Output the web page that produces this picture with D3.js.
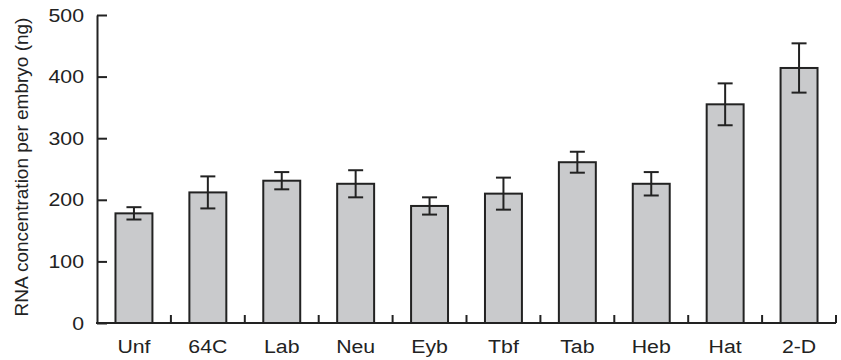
<!DOCTYPE html>
<html lang="en">
	<head>
		<meta charset="utf-8">
		<title>RNA per embryo</title>
		<script type="text/javascript" src="https://cdn.jsdelivr.net/npm/d3@7"></script>
		<style type="text/css">
			body { margin: 0; background: #fff; }
			text { font-family: "Liberation Sans", Arial, sans-serif; fill: #222; }
		</style>
	</head>
	<body>
		<script type="text/javascript">

			// stages and RNA values (ng)
			var stages = ["Unf", "64C", "Lab", "Neu", "Eyb", "Tbf", "Tab", "Heb", "Hat", "2-D"]
			var rna = [178, 212, 231, 226, 190, 210, 261, 226, 355, 414]
			var err = [10, 26, 14, 22, 14, 26, 17, 19, 34, 40]
			var yTicks = [0, 100, 200, 300, 400, 500]

			var w = 841, h = 360
			var padL = 97, padR = 836, padT = 15, padB = 323
			var stretch = 1.12 // labels in the figure are a bit wider than Helvetica

			var svg = d3.select("body").append("svg").attr("width", w).attr("height", h)

			var x = d3.scaleBand()
				.domain(stages)
				.range([padL, padR])
				.paddingInner(0.5)
				.paddingOuter(0.25)

			var y = d3.scaleLinear()
				.domain([0, 500])
				.range([padB, padT])

			var data = stages.map(function(s, i) {
				return {stage: s, v: rna[i], e: err[i]}
			})

			// bars
			svg.selectAll(".bar")
				.data(data)
				.enter()
				.append("rect")
				.attr("class", "bar")
				.attr("x", function(d) { return x(d.stage) })
				.attr("y", function(d) { return y(d.v) })
				.attr("width", x.bandwidth())
				.attr("height", function(d) { return y(0) - y(d.v) })
				.attr("fill", "#c9cacc")
				.attr("stroke", "#222")
				.attr("stroke-width", 2)

			// error bars
			var cap = 7.5
			var eb = svg.selectAll(".err")
				.data(data)
				.enter()
				.append("g")
				.attr("class", "err")
				.attr("stroke", "#222")
				.attr("stroke-width", 2)
				.attr("transform", function(d) { return "translate(" + (x(d.stage) + x.bandwidth() / 2) + ",0)" })
			eb.append("line")
				.attr("y1", function(d) { return y(d.v + d.e) })
				.attr("y2", function(d) { return y(d.v - d.e) })
			eb.append("line")
				.attr("x1", -cap).attr("x2", cap)
				.attr("y1", function(d) { return y(d.v + d.e) })
				.attr("y2", function(d) { return y(d.v + d.e) })
			eb.append("line")
				.attr("x1", -cap).attr("x2", cap)
				.attr("y1", function(d) { return y(d.v - d.e) })
				.attr("y2", function(d) { return y(d.v - d.e) })

			// y axis, ticks pointing inward
			var yAxis = svg.append("g")
				.attr("transform", "translate(" + padL + ",0)")
				.call(d3.axisLeft(y).tickValues(yTicks).tickSizeInner(-10).tickSizeOuter(0).tickPadding(13))
			yAxis.select(".domain").attr("stroke", "#222").attr("stroke-width", 2)
			yAxis.selectAll(".tick line").attr("stroke", "#222").attr("stroke-width", 2)
			yAxis.selectAll("text").attr("font-size", "19px").attr("fill", "#222")
				.attr("font-family", "Liberation Sans, Arial, sans-serif")
				.attr("x", -13 / stretch)
				.attr("transform", "scale(" + stretch + ",1)")

			// x axis with labels, separator ticks drawn between bands
			var xAxis = svg.append("g")
				.attr("transform", "translate(0," + padB + ")")
				.call(d3.axisBottom(x).tickSize(0).tickPadding(16.5))
			xAxis.select(".domain").attr("stroke", "#222").attr("stroke-width", 2)
				.attr("d", "M" + (padL - 1) + ",0H" + padR)
			xAxis.selectAll("text").attr("font-size", "19px").attr("fill", "#222")
				.attr("font-family", "Liberation Sans, Arial, sans-serif")
				.attr("transform", "scale(" + stretch + ",1)")

			var step = x.step()
			svg.selectAll(".sep")
				.data(stages)
				.enter()
				.append("line")
				.attr("class", "sep")
				.attr("x1", function(d) { return x(d) + x.bandwidth() + step * x.paddingInner() / 2 })
				.attr("x2", function(d) { return x(d) + x.bandwidth() + step * x.paddingInner() / 2 })
				.attr("y1", padB)
				.attr("y2", padB - 8)
				.attr("stroke", "#222")
				.attr("stroke-width", 2)

			// axis title
			svg.append("text")
				.attr("transform", "translate(28,167) rotate(-90)")
				.attr("text-anchor", "middle")
				.attr("font-size", "19px")
				.text("RNA concentration per embryo (ng)")

		</script>
	</body>
</html>
